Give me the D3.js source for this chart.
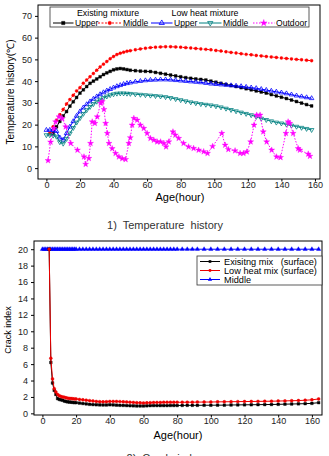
<!DOCTYPE html>
<html><head><meta charset="utf-8">
<script src="https://cdn.jsdelivr.net/npm/d3@7"></script>
<style>
body{margin:0;background:#fff;}
svg{display:block;font-family:"Liberation Sans",Arial,sans-serif;}
</style></head>
<body><svg id="c" width="329" height="456"></svg>
<script>
// ---------- Chart 1: Temperature history ----------
const tempHours = [0,2,4,6,8,10,12,14,16,18,20,22,24,26,28,30,32,34,36,38,40,42,44,46,48,50,53,56,59,62,65,68,71,74,77,80,83,86,89,92,95,98,101,104,107,110,113,116,119,122,125,128,131,134,137,140,143,146,149,152,155,158];
const existUpper = [null,null,16,19,21.5,24,26,28.5,30.5,32.5,34.5,36,37.5,39,40,41,42,43,43.8,44.5,45.2,45.6,45.8,45.6,45.3,45,44.8,44.6,44.5,44.4,44,43.6,43.2,42.8,42.4,42,41.6,41.3,41,40.8,40.5,40,39.5,39,38.5,38,37.5,37,36.5,36,35.5,35,34.5,33.8,33.2,32.6,32,31.3,30.6,29.9,29.2,28.6];
const existMiddle = [null,16,19,22,24.5,27,29.5,31.5,33.5,35.5,37,39,40.5,42,43.5,45,46.5,47.8,49,50.3,51.3,52.2,52.8,53.3,53.7,54,54.4,54.8,55.1,55.4,55.6,55.7,55.8,55.8,55.7,55.6,55.4,55.2,55,54.8,54.6,54.4,54.1,53.8,53.5,53.2,52.9,52.6,52.3,52.1,51.8,51.6,51.3,51.1,50.9,50.6,50.4,50.2,50,49.8,49.6,49.4];
const lowUpper = [17.5,17.5,17.5,17,14,13,16,19,21.5,24,26,27.8,29.3,30.6,31.8,32.9,33.9,34.8,35.6,36.3,37,37.6,38.1,38.6,39,39.3,39.7,40,40.3,40.5,40.6,40.7,40.7,40.6,40.4,40.2,40,39.8,39.6,39.4,39.1,38.8,38.6,38.4,38.2,38,37.8,37.6,37.3,37,36.7,36.3,35.9,35.5,35.1,34.7,34.3,33.8,33.3,32.9,32.5,32.1];
const lowMiddle = [15.2,15.2,15,14.5,12,11.3,13.5,16,18.5,21,23,25,26.7,28.2,29.5,30.6,31.5,32.3,33,33.6,34,34.3,34.4,34.4,34.3,34.2,34,33.8,33.6,33.4,33.2,33,32.7,32.3,31.8,31.3,30.8,30.3,29.9,29.5,29.2,28.9,28.5,28,27.4,26.8,26.2,25.6,25,24.4,23.6,22.8,22.2,21.6,21,20.6,20.1,19.6,19.1,18.6,18.1,17.6];
const outdoorHours = [1,2.5,4.5,5.5,7.5,9.5,11.5,14.5,18.5,22.4,23.4,25.3,26.3,27.3,28.9,30.3,32.3,33.3,34.3,35.3,36.3,37.3,39.2,41.2,43.2,45.2,47.2,49.1,50,51.1,52.1,54.1,56,58,60,62,64,66,68,70,71.3,72.9,75.4,76.8,78.8,81.7,84.7,87.7,90.7,93.7,96,99,104.5,106.5,108.4,112.4,115.4,117.4,119.4,121.7,123.7,125.3,127.3,129.2,131.2,134.2,137.1,139.5,142.7,144,145,147,150,151,156,157];
const outdoor = [3.5,12,18.3,21.3,23.6,22.8,19,11.4,8.3,5.2,1.8,4.5,11.4,21.3,20.6,23.6,29.8,30.6,27,20.6,16,11.4,9,6.8,5.2,4.4,4,11.4,14,19.8,22.9,22.1,19.8,18.3,16,13.7,12.9,12.1,12.1,11.4,9.8,12.1,16.7,15.2,13.7,11.4,9.8,9.1,8.3,7.6,6.8,10,16,10.6,8.6,8,6.8,6.8,7.5,12.1,19.8,24.4,24.4,16.7,12.1,8.3,5.2,4.9,16,21.3,20.6,16,9,8.3,6.5,5.5];
const tempXTicks = [0,20,40,60,80,100,120,140,160];
const tempYTicks = [0,10,20,30,40,50,60,70];

// ---------- Chart 2: Crack index ----------
const crackHours = [0,1,2,3,4,5,6,7,8,9,10,11,12,13,14,15,16,17,18,19,20,22,24,26,28,30,32,34,36,38,40,42,44,46,48,50,52,54,56,58,60,62,64,66,68,70,72,74,76,78,80,83,86,89,92,96,100,104,108,112,116,120,124,128,132,136,140,144,148,152,156,160,164];
const existSurface = [null,null,null,null,20,6.2,3.7,2.8,2.3,1.8,1.7,1.65,1.6,1.5,1.45,1.4,1.38,1.36,1.33,1.31,1.3,1.25,1.2,1.15,1.1,1.07,1.05,1.03,1.02,1.02,1.05,1.03,1.0,0.98,0.97,0.95,0.93,0.92,0.9,0.9,0.9,0.92,0.94,0.95,0.95,0.95,0.95,0.95,0.96,0.96,0.96,0.97,0.98,0.98,0.98,0.99,0.99,1.0,1.0,1.02,1.03,1.04,1.05,1.06,1.07,1.08,1.1,1.12,1.14,1.16,1.18,1.22,1.3];
const lowSurface = [null,null,null,null,20,6.7,4.2,3.0,2.6,2.3,2.15,2.05,2.0,1.95,1.9,1.85,1.82,1.8,1.78,1.76,1.75,1.7,1.65,1.6,1.55,1.5,1.45,1.42,1.4,1.42,1.45,1.45,1.45,1.43,1.4,1.38,1.35,1.33,1.3,1.28,1.25,1.28,1.3,1.32,1.33,1.33,1.34,1.34,1.35,1.35,1.35,1.35,1.36,1.36,1.37,1.38,1.38,1.4,1.41,1.42,1.43,1.44,1.45,1.46,1.47,1.48,1.5,1.52,1.54,1.56,1.6,1.65,1.75];
const middleCrack = crackHours.map(() => 20);
const crackXTicks = [0,20,40,60,80,100,120,140,160];
const crackYTicks = [0,2,4,6,8,10,12,14,16,18,20];

const svg = d3.select("#c");

function frame(g, x, y, xt, yt, tickFont){
  const [x0,x1] = x.range(), [y0,y1] = y.range();
  g.append("rect").attr("x",x0).attr("y",y1).attr("width",x1-x0).attr("height",y0-y1)
    .attr("fill","none").attr("stroke","#000").attr("stroke-width",1);
  const ax = g.append("g").attr("transform",`translate(0,${y0})`)
    .call(d3.axisBottom(x).tickValues(xt).tickSize(2.5).tickPadding(0.5).tickSizeOuter(0));
  const ay = g.append("g").attr("transform",`translate(${x0},0)`)
    .call(d3.axisLeft(y).tickValues(yt).tickSize(3).tickPadding(3).tickSizeOuter(0));
  [ax,ay].forEach(a=>{
    a.select(".domain").remove();
    a.selectAll("text").attr("font-size",tickFont).attr("fill","#222").attr("font-family","Liberation Sans, Arial, sans-serif");
    a.selectAll("line").attr("stroke","#000");
  });
}

function series(g, x, y, xs, ys, o){
  const pts = xs.map((h,i)=>[h,ys[i]]).filter(p=>p[1]!=null);
  g.append("path").datum(pts)
    .attr("d", d3.line().x(d=>x(d[0])).y(d=>y(d[1])))
    .attr("fill","none").attr("stroke",o.color).attr("stroke-width",o.lw||1)
    .attr("stroke-dasharray",o.dash||null);
  const sym = d3.symbol().type(o.sym).size(o.size);
  g.selectAll(null).data(pts).join("path")
    .attr("transform",d=>`translate(${x(d[0])},${y(d[1])})${o.rot?" rotate(180)":""}`)
    .attr("d",sym())
    .attr("fill",o.fill?o.color:"none").attr("stroke",o.color).attr("stroke-width",o.fill?0.4:0.8);
}

// ----- Chart 1 -----
const x1 = d3.scaleLinear().domain([-5,163]).range([38,320]);
const y1 = d3.scaleLinear().domain([-5,75]).range([179,5]);
const g1 = svg.append("g");
const s1 = [
  {ys:existUpper, color:"#000000", sym:d3.symbolSquare, size:8, fill:true},
  {ys:existMiddle, color:"#ff0000", sym:d3.symbolCircle, size:7, fill:true, dash:"2,1.5"},
  {ys:lowUpper, color:"#0000ff", sym:d3.symbolTriangle, size:9, fill:false},
  {ys:lowMiddle, color:"#008080", sym:d3.symbolTriangle, size:9, fill:false, rot:true},
];
s1.forEach(s=>series(g1,x1,y1,tempHours,s.ys,s));
const outdoorStyle = {color:"#ff00ff", sym:d3.symbolStar, size:11, fill:true, dash:"1.5,1.5"};
series(g1,x1,y1,outdoorHours,outdoor,outdoorStyle);
frame(g1,x1,y1,tempXTicks,tempYTicks,"9px");

// legend 1
const L1 = g1.append("g");
L1.append("rect").attr("x",50).attr("y",7).attr("width",259).attr("height",20)
  .attr("fill","#fff").attr("stroke","#333").attr("stroke-width",0.8);
L1.append("text").attr("x",108).attr("y",16).attr("text-anchor","middle").attr("font-size","8.8px").text("Existing mixture");
L1.append("text").attr("x",205).attr("y",16).attr("text-anchor","middle").attr("font-size","8.8px").text("Low heat mixture");
const leg1 = [
  {label:"Upper", x:53, tx:75, ...s1[0]},
  {label:"Middle", x:98, tx:123, ...s1[1]},
  {label:"Upper", x:151, tx:174, ...s1[2]},
  {label:"Middle", x:199, tx:223, ...s1[3]},
  {label:"Outdoor", x:253, tx:276, ...outdoorStyle},
];
leg1.forEach(l=>{
  const ly = 23;
  L1.append("line").attr("x1",l.x).attr("x2",l.tx-1.5).attr("y1",ly).attr("y2",ly)
    .attr("stroke",l.color).attr("stroke-width",1).attr("stroke-dasharray",l.dash||null);
  L1.append("path").attr("transform",`translate(${(l.x+l.tx-1.5)/2},${ly})${l.rot?" rotate(180)":""}`)
    .attr("d",d3.symbol().type(l.sym).size(l.size+3)())
    .attr("fill",l.fill?l.color:"none").attr("stroke",l.color).attr("stroke-width",l.fill?0.4:0.8);
  L1.append("text").attr("x",l.tx).attr("y",ly+3.2).attr("font-size","8.6px").text(l.label);
});

g1.append("text").attr("transform","translate(14,92) rotate(-90)").attr("text-anchor","middle")
  .attr("font-size","10px").text("Temperature history(℃)");
g1.append("text").attr("x",180).attr("y",201).attr("text-anchor","middle").attr("font-size","11px").text("Age(hour)");
svg.append("text").attr("x",165).attr("y",229).attr("text-anchor","middle").attr("font-size","11px")
  .attr("fill","#333").attr("word-spacing","3px").text("1) Temperature history");

// ----- Chart 2 -----
const x2 = d3.scaleLinear().domain([-5,166]).range([34,322]);
const y2 = d3.scaleLinear().domain([-0.2,21]).range([415,241]);
const g2 = svg.append("g");
const s2 = [
  {ys:middleCrack, color:"#0000ff", sym:d3.symbolTriangle, size:8, fill:true, label:"Middle"},
  {ys:existSurface, color:"#000000", sym:d3.symbolSquare, size:7, fill:true, label:"Exisitng mix   (surface)"},
  {ys:lowSurface, color:"#ee0000", sym:d3.symbolCircle, size:7, fill:true, label:"Low heat mix (surface)"},
];
s2.forEach(s=>series(g2,x2,y2,crackHours,s.ys,s));
frame(g2,x2,y2,crackXTicks,crackYTicks,"9px");

const L2 = g2.append("g");
L2.append("rect").attr("x",197).attr("y",256).attr("width",125).attr("height",29)
  .attr("fill","#fff").attr("stroke","#333").attr("stroke-width",0.8);
[s2[1],s2[2],s2[0]].forEach((l,i)=>{
  const ly = 261.5 + i*9;
  L2.append("line").attr("x1",200).attr("x2",220).attr("y1",ly).attr("y2",ly).attr("stroke",l.color);
  L2.append("path").attr("transform",`translate(210,${ly})`).attr("d",d3.symbol().type(l.sym).size(l.size)()).attr("fill",l.color);
  L2.append("text").attr("x",224).attr("y",ly+3.2).attr("font-size","9.2px").style("white-space","pre").text(l.label);
});

g2.append("text").attr("transform","translate(11,330) rotate(-90)").attr("text-anchor","middle")
  .attr("font-size","9px").text("Crack index");
g2.append("text").attr("x",178).attr("y",439).attr("text-anchor","middle").attr("font-size","11px").text("Age(hour)");
svg.append("text").attr("x",165).attr("y",462).attr("text-anchor","middle").attr("font-size","11px")
  .attr("fill","#333").attr("word-spacing","3px").text("2) Crack index");
</script></body></html>
